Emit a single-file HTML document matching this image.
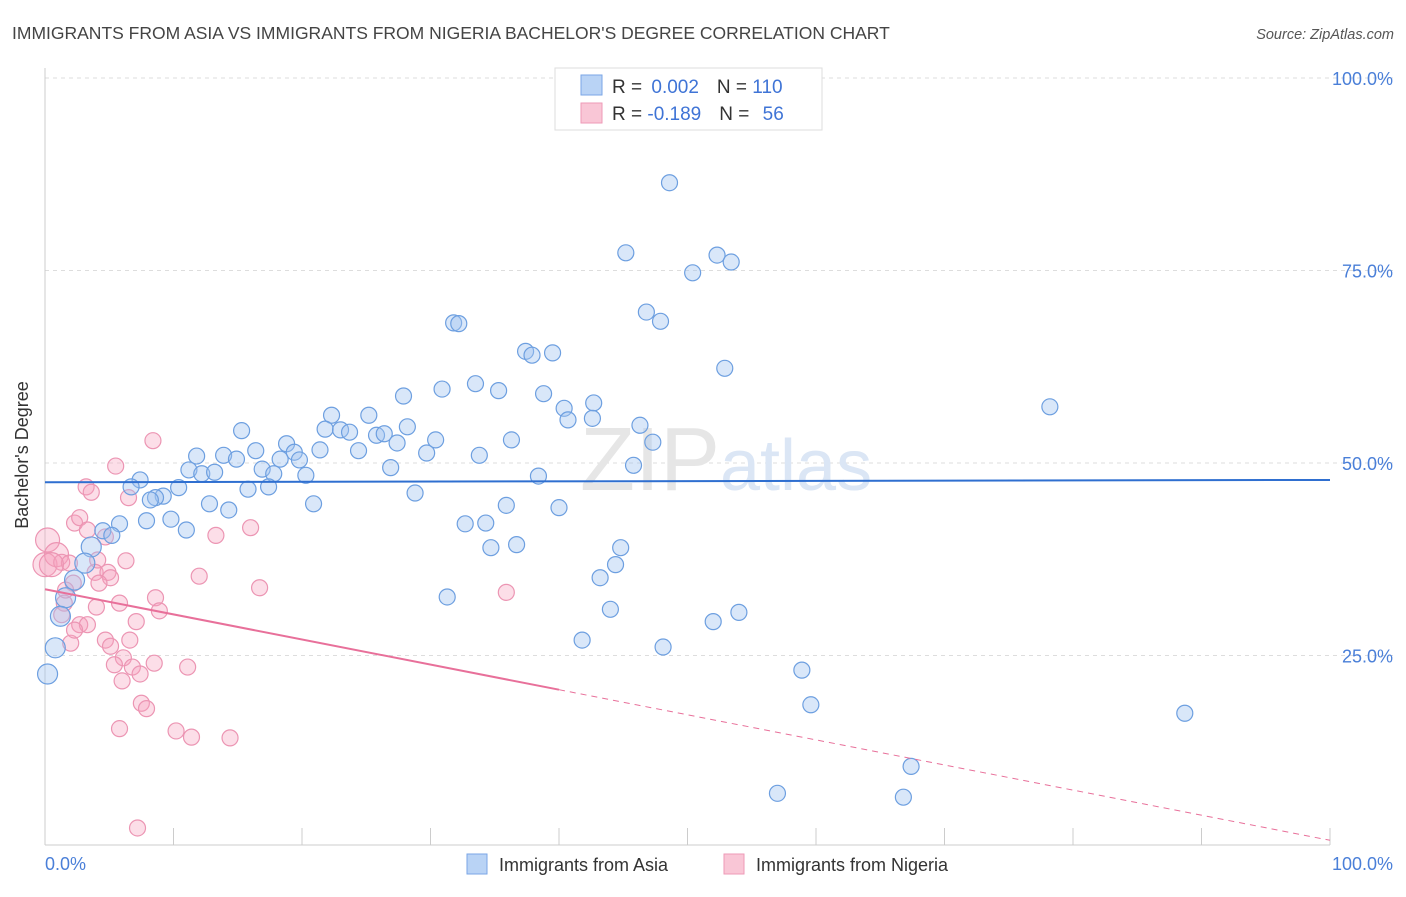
<!DOCTYPE html>
<html><head><meta charset="utf-8"><style>
body{margin:0;background:#fff;}
svg text{font-family:"Liberation Sans",sans-serif;}
</style></head><body>
<svg id="chart" width="1406" height="892" viewBox="0 0 1406 892" xmlns="http://www.w3.org/2000/svg">
<text x="12" y="39" font-size="17.5" fill="#444">IMMIGRANTS FROM ASIA VS IMMIGRANTS FROM NIGERIA BACHELOR'S DEGREE CORRELATION CHART</text>
<text x="1394" y="39" font-size="14.5" fill="#555" font-style="italic" text-anchor="end">Source: ZipAtlas.com</text>
<g id="grid"></g>
<text x="720" y="490" font-size="90" fill="#e6e6e6" text-anchor="end" font-family="Liberation Serif">ZIP</text>
<text x="720" y="490" font-size="72" fill="#dbe6f5">atlas</text>
<line x1="45" y1="68" x2="45" y2="845" stroke="#ccc"/>
<line x1="45" y1="845" x2="1330" y2="845" stroke="#ccc"/>
<g id="ticks"></g>
<g id="pink"></g>
<g id="blue"></g>
<g id="lines"></g>
<text x="28" y="455" font-size="18" fill="#333" text-anchor="middle" transform="rotate(-90 28 455)">Bachelor's Degree</text>
<text x="45" y="870" font-size="18" fill="#4a7fd8">0.0%</text>
<text x="1393" y="870" font-size="18" fill="#4a7fd8" text-anchor="end">100.0%</text>
<g>
<rect x="555" y="68" width="267" height="62" fill="#fff" stroke="#ddd"/>
<rect x="581" y="75" width="21" height="20" fill="#b9d3f5" stroke="#7aa6e6"/>
<rect x="581" y="103" width="21" height="20" fill="#f9c6d6" stroke="#ee9ab7"/>
<text x="612" y="93" font-size="19" fill="#333">R = <tspan fill="#3f74d6" dx="4">0.002</tspan><tspan dx="18" fill="#333">N = </tspan><tspan fill="#3f74d6">110</tspan></text>
<text x="612" y="120" font-size="19" fill="#333">R = <tspan fill="#3f74d6">-0.189</tspan><tspan dx="18" fill="#333">N = </tspan><tspan fill="#3f74d6" dx="8">56</tspan></text>
</g>
<g>
<rect x="467" y="854" width="20" height="20" fill="#b9d3f5" stroke="#7aa6e6"/>
<text x="499" y="871" font-size="18" fill="#333">Immigrants from Asia</text>
<rect x="724" y="854" width="20" height="20" fill="#f9c6d6" stroke="#ee9ab7"/>
<text x="756" y="871" font-size="18" fill="#333">Immigrants from Nigeria</text>
</g>
</svg>
<script>
const yTicks=[25,50,75,100];
const yTickLabels=["25.0%","50.0%","75.0%","100.0%"];
const xTicks=[10,20,30,40,50,60,70,80,90,100];
const asiaX=[48.6,45.2,52.3,53.4,50.4,46.8,47.9,31.8,32.2,52.9,37.4,37.9,39.5,78.2,33.5,30.9,35.3,27.9,38.8,22.3,25.2,42.7,40.4,42.6,40.7,46.3,15.3,21.8,23.0,23.7,25.8,26.4,28.2,30.4,18.8,36.3,47.3,16.4,13.9,11.8,14.9,19.4,19.8,24.4,27.4,29.7,33.8,18.3,21.4,16.9,11.2,12.2,13.2,17.8,20.3,26.9,45.8,38.4,7.4,6.7,10.4,15.8,17.4,28.8,9.2,8.6,8.2,12.8,14.3,20.9,35.9,40.0,32.7,34.3,7.9,5.8,9.8,11.0,4.5,5.2,3.6,34.7,36.7,44.8,44.4,43.2,3.1,2.3,1.6,1.2,31.3,44.0,54.0,52.0,41.8,48.1,0.8,0.2,58.9,59.6,88.7,67.4,57.0,66.8];
const asiaY=[86.4,77.3,77.0,76.1,74.7,69.6,68.4,68.2,68.1,62.3,64.5,64.0,64.3,57.3,60.3,59.6,59.4,58.7,59.0,56.2,56.2,57.8,57.1,55.8,55.6,54.9,54.2,54.4,54.3,54.0,53.6,53.8,54.7,53.0,52.5,53.0,52.7,51.6,51.0,50.9,50.5,51.4,50.4,51.6,52.6,51.3,51.0,50.5,51.7,49.2,49.1,48.6,48.8,48.6,48.4,49.4,49.7,48.3,47.8,46.9,46.8,46.6,46.9,46.1,45.7,45.5,45.2,44.7,43.9,44.7,44.5,44.2,42.1,42.2,42.5,42.1,42.7,41.3,41.2,40.6,39.1,39.0,39.4,39.0,36.8,35.1,37.0,34.8,32.5,30.1,32.6,31.0,30.6,29.4,27.0,26.1,26.0,22.6,23.1,18.6,17.5,10.6,7.1,6.6];
const nigeriaX=[0.0,0.2,0.9,1.3,1.9,0.5,3.2,3.6,6.5,8.4,5.5,2.3,2.7,3.3,4.7,4.1,3.9,4.9,5.1,4.2,6.3,2.2,1.5,1.3,4.0,5.8,2.7,3.3,7.1,8.6,8.9,12.0,13.3,16.0,16.7,35.9,2.0,4.7,5.1,6.6,6.1,5.4,6.8,7.4,6.0,8.5,11.1,7.5,7.9,5.8,10.2,11.4,14.4,7.2,1.6,2.3];
const nigeriaY=[36.8,40.0,38.1,37.1,37.0,36.8,46.9,46.2,45.5,52.9,49.6,42.2,42.9,41.3,40.4,37.4,35.8,35.8,35.1,34.4,37.3,34.4,31.8,30.3,31.3,31.8,29.0,29.0,29.4,32.5,30.8,35.3,40.6,41.6,33.8,33.2,26.6,27.0,26.2,27.0,24.7,23.8,23.5,22.6,21.7,24.0,23.5,18.8,18.1,15.5,15.2,14.4,14.3,2.6,33.5,28.3];
const asiaTrend=[47.5,0.003];
const nigeriaTrend=[33.6,-0.326];
const NS="http://www.w3.org/2000/svg";
const X=v=>45+v*12.85, Y=v=>848-v*7.7;
function mk(t,a,p){const e=document.createElementNS(NS,t);for(const k in a)e.setAttribute(k,a[k]);document.getElementById(p).appendChild(e);return e;}
yTicks.forEach((t,i)=>{
 const g=mk('line',{x1:45,x2:1393,y1:Y(t),y2:Y(t),stroke:'#ddd','stroke-dasharray':'4,4'},'grid');
 
 
 const l=mk('text',{x:1393,y:Y(t)+7,'font-size':18,fill:'#4a7fd8','text-anchor':'end'},'grid');
 l.textContent=yTickLabels[i];
 
 
});
xTicks.forEach(t=>{
 const e=mk('line',{x1:X(t),x2:X(t),y1:828,y2:845,stroke:'#ccc'},'ticks');
 
 
});
nigeriaX.forEach((x,i)=>{
 const c=mk('circle',{cx:X(x),cy:Y(nigeriaY[i]),r:x<1?12:8,fill:'rgba(245,160,190,0.35)',stroke:'#ec95b3','stroke-width':1.2},'pink');
 
 
});
asiaX.forEach((x,i)=>{
 const c=mk('circle',{cx:X(x),cy:Y(asiaY[i]),r:x<4?10:8,fill:'rgba(160,195,240,0.4)',stroke:'#6d9fe0','stroke-width':1.2},'blue');
 
 
});
const f=(c,x)=>c[0]+c[1]*x;
const b=mk('line',{x1:X(0),y1:Y(f(asiaTrend,0)),x2:X(100),y2:Y(f(asiaTrend,100)),stroke:'#2f6fd0','stroke-width':2},'lines');


const p1=mk('line',{x1:X(0),y1:Y(f(nigeriaTrend,0)),x2:X(40),y2:Y(f(nigeriaTrend,40)),stroke:'#e8709a','stroke-width':2},'lines');


const p2=mk('line',{x1:X(40),y1:Y(f(nigeriaTrend,40)),x2:X(100),y2:Y(f(nigeriaTrend,100)),stroke:'#e8709a','stroke-width':1,'stroke-dasharray':'6,5'},'lines');


</script>
</body></html>
